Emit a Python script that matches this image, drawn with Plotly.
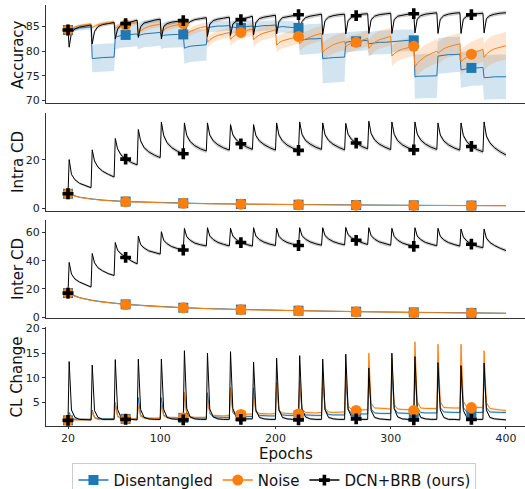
import plotly.graph_objects as go
from plotly.subplots import make_subplots

# ---------------- data ----------------
OFFSETS = [1, 3, 6, 10, 15, 20]          # epochs after each task boundary
TASK_STARTS = [20 + 20 * k for k in range(19)]
epochs = [20] + [b + o for b in TASK_STARTS for o in OFFSETS]
marker_epochs = [20, 70, 120, 170, 220, 270, 320, 370]
smooth_epochs = [20, 25, 30, 40, 50, 70, 95, 120, 145, 170, 220, 270, 320, 370, 400]

# ---- Accuracy (per task rows: values at OFFSETS) ----
acc_start = 84.3
acc_dcn = [
    [80.8, 83.8, 84.5, 84.9, 85.1, 85.3], [81.5, 84.0, 85.0, 85.4, 85.6, 85.8],
    [82.5, 84.5, 85.3, 85.6, 86.0, 86.3], [82.8, 85.0, 85.7, 86.0, 86.3, 86.5],
    [82.5, 85.0, 85.6, 85.9, 86.1, 86.2], [83.0, 85.3, 86.0, 86.4, 86.6, 86.8],
    [83.0, 85.5, 86.2, 86.5, 86.7, 86.9], [83.2, 85.5, 86.1, 86.4, 86.8, 87.1],
    [83.3, 85.8, 86.6, 86.9, 87.1, 87.3], [83.5, 86.0, 86.8, 87.0, 87.2, 87.4],
    [83.3, 86.0, 86.8, 87.1, 87.3, 87.5], [83.4, 86.2, 86.9, 87.2, 87.4, 87.5],
    [83.5, 86.2, 86.9, 87.2, 87.5, 87.6], [83.6, 86.4, 87.1, 87.4, 87.6, 87.7],
    [83.6, 86.4, 87.1, 87.3, 87.5, 87.6], [83.7, 86.5, 87.2, 87.5, 87.7, 87.8],
    [83.6, 86.5, 87.2, 87.5, 87.7, 87.8], [83.6, 86.5, 87.1, 87.4, 87.6, 87.7],
    [83.7, 86.6, 87.2, 87.5, 87.7, 87.8],
]
acc_dcn_std = [0.4, 0.4, 0.4, 0.4, 0.4, 0.4, 0.4, 0.4, 0.4, 0.4,
               0.4, 0.4, 0.4, 0.4, 0.4, 0.4, 0.4, 0.4, 0.4]
acc_dis = [
    [84.2, 84.4, 84.6, 84.7, 84.8, 84.9], [78.5, 78.6, 78.6, 78.7, 78.7, 78.8],
    [82.8, 83.0, 83.2, 83.3, 83.4, 83.5], [83.0, 83.3, 83.5, 83.6, 83.7, 83.8],
    [83.0, 83.2, 83.3, 83.4, 83.4, 83.4], [80.6, 80.8, 81.0, 81.1, 81.2, 81.3],
    [84.8, 84.9, 85.0, 85.1, 85.1, 85.2], [84.8, 84.9, 84.8, 84.7, 85.0, 85.1],
    [84.9, 85.0, 85.1, 85.2, 85.2, 85.3], [84.8, 84.9, 85.0, 84.9, 84.8, 84.7],
    [82.2, 82.3, 82.4, 82.5, 82.5, 82.6], [78.5, 78.6, 78.6, 78.7, 78.7, 78.8],
    [81.8, 81.9, 82.0, 82.0, 82.1, 82.2], [81.5, 81.6, 81.7, 81.8, 81.8, 81.9],
    [82.0, 82.1, 82.1, 82.2, 82.2, 82.2], [74.8, 74.9, 74.9, 75.0, 75.0, 75.0],
    [79.0, 79.1, 79.2, 79.3, 79.3, 79.4], [76.2, 76.3, 76.4, 76.6, 76.6, 76.7],
    [74.6, 74.7, 74.7, 74.8, 74.8, 74.8],
]
acc_dis_std = [0.5, 2.8, 2.5, 2.7, 2.6, 3.2, 1.0, 1.2, 1.0, 1.2,
               3.0, 5.0, 2.0, 2.4, 2.2, 4.5, 3.6, 3.6, 4.5]
acc_noise = [
    [84.0, 84.5, 84.9, 85.2, 85.4, 85.5], [84.8, 85.1, 85.4, 85.6, 85.8, 85.9],
    [84.6, 85.0, 85.2, 85.3, 85.6, 85.8], [83.8, 84.2, 84.6, 85.0, 85.3, 85.5],
    [84.0, 84.4, 84.8, 85.1, 85.4, 85.6], [83.2, 83.6, 84.0, 84.4, 84.8, 85.0],
    [81.8, 82.3, 82.8, 83.2, 83.5, 83.8], [82.4, 82.9, 83.4, 83.8, 84.2, 84.5],
    [82.3, 82.8, 83.3, 83.7, 84.0, 84.3], [81.2, 81.7, 82.1, 82.4, 82.7, 83.0],
    [81.5, 82.0, 82.5, 82.9, 83.3, 83.6], [79.8, 80.3, 80.8, 81.3, 81.7, 82.0],
    [80.9, 81.3, 81.6, 81.8, 82.2, 82.6], [80.6, 81.2, 81.8, 82.3, 82.7, 83.0],
    [79.0, 79.5, 80.0, 80.4, 80.7, 81.0], [76.8, 77.5, 78.2, 78.9, 79.5, 80.0],
    [79.6, 80.0, 80.5, 80.9, 81.2, 81.5], [77.8, 78.3, 78.8, 79.4, 79.9, 80.4],
    [78.7, 79.4, 80.0, 80.5, 80.8, 81.1],
]
acc_noise_std = [0.3, 0.4, 0.5, 0.6, 0.6, 0.8, 1.0, 1.3, 1.4, 1.5,
                 1.5, 1.8, 1.6, 1.8, 2.0, 2.4, 2.2, 2.5, 2.8]

# ---- Intra CD ----
intra_start = 6.0
intra_dcn = [
    [20.1, 14.0, 11.8, 10.3, 9.3, 8.5], [24.1, 19.5, 17.0, 15.3, 14.0, 12.9],
    [28.8, 24.5, 22.0, 20.3, 18.9, 17.9], [32.5, 27.8, 25.0, 23.3, 21.9, 20.9],
    [35.6, 30.0, 27.0, 25.0, 23.5, 22.5], [35.2, 30.0, 27.5, 25.8, 24.5, 23.6],
    [35.2, 30.2, 27.8, 26.2, 24.9, 24.0], [34.5, 30.3, 28.2, 26.6, 25.3, 24.3],
    [34.5, 30.0, 27.8, 26.3, 25.0, 24.0], [35.2, 30.2, 27.8, 26.1, 24.8, 23.9],
    [35.6, 30.5, 28.0, 26.5, 25.2, 24.3], [35.2, 30.3, 28.0, 26.4, 25.1, 24.1],
    [35.0, 30.5, 28.4, 26.9, 25.5, 24.5], [35.9, 30.8, 28.2, 26.5, 25.2, 24.2],
    [35.6, 30.5, 27.9, 26.2, 24.9, 24.1], [35.6, 30.6, 28.2, 26.5, 25.2, 24.3],
    [35.2, 30.2, 27.8, 26.2, 24.9, 24.0], [35.2, 30.0, 27.5, 25.5, 24.2, 23.3],
    [35.6, 29.8, 27.0, 25.0, 23.3, 22.0],
]
intra_dcn_std = [0.5, 0.6, 0.7, 0.8, 0.9, 0.9, 0.9, 0.9, 0.9, 0.9,
                 0.9, 0.9, 0.9, 0.9, 0.9, 0.9, 0.9, 0.9, 0.9]
intra_dis = [6.0, 5.2, 4.6, 3.9, 3.4, 2.8, 2.4, 2.1, 1.9, 1.75, 1.5, 1.35, 1.25, 1.15, 1.1]
intra_noise = [6.0, 5.1, 4.5, 3.8, 3.3, 2.7, 2.3, 2.05, 1.85, 1.7, 1.45, 1.3, 1.2, 1.1, 1.05]
intra_smooth_std = [0.2, 0.2, 0.2, 0.2, 0.2, 0.2, 0.15, 0.15, 0.15, 0.15, 0.1, 0.1, 0.1, 0.1, 0.1]

# ---- Inter CD ----
inter_start = 17.0
inter_dcn = [
    [38.8, 30.5, 27.0, 24.8, 22.8, 21.3], [45.1, 38.5, 35.0, 32.8, 30.8, 29.5],
    [52.9, 47.5, 44.8, 42.3, 39.8, 37.7], [57.5, 51.5, 49.0, 47.0, 45.8, 44.7],
    [60.6, 54.5, 52.0, 50.0, 48.6, 47.6], [62.9, 57.0, 54.5, 52.5, 51.3, 50.5],
    [63.4, 57.5, 55.0, 53.0, 51.6, 50.5], [63.0, 57.5, 55.0, 52.9, 51.5, 50.4],
    [63.4, 57.5, 55.0, 53.2, 51.8, 50.8], [63.0, 57.3, 54.8, 53.0, 51.7, 50.8],
    [63.4, 57.8, 55.3, 53.4, 52.0, 51.0], [63.4, 57.8, 55.5, 53.6, 52.2, 51.2],
    [63.6, 58.5, 56.2, 54.5, 52.8, 51.5], [63.4, 57.8, 55.3, 53.4, 52.0, 51.0],
    [63.0, 57.2, 54.6, 52.6, 51.2, 50.1], [63.4, 57.5, 55.0, 53.0, 51.7, 50.6],
    [63.0, 57.3, 54.8, 52.9, 51.5, 50.4], [62.5, 56.8, 54.0, 51.7, 50.2, 49.2],
    [62.5, 56.0, 53.0, 50.8, 48.8, 47.2],
]
inter_dcn_std = [0.8, 0.9, 1.0, 1.1, 1.2, 1.3, 1.3, 1.3, 1.3, 1.3,
                 1.3, 1.3, 1.3, 1.3, 1.3, 1.3, 1.3, 1.3, 1.3]
inter_dis = [17.0, 15.2, 13.8, 12.0, 10.8, 9.0, 7.6, 6.6, 5.9, 5.3, 4.5, 3.8, 3.3, 2.9, 2.7]
inter_noise = [17.0, 15.0, 13.6, 11.8, 10.6, 8.9, 7.5, 6.5, 5.8, 5.2, 4.4, 3.7, 3.2, 2.8, 2.6]
inter_smooth_std = [0.6, 0.6, 0.5, 0.5, 0.5, 0.4, 0.4, 0.4, 0.3, 0.3, 0.3, 0.3, 0.3, 0.3, 0.3]

# ---- CL Change ----
cl_start = 1.4
cl_dcn = [
    [13.3, 3.5, 2.0, 1.6, 1.6, 1.5], [12.6, 3.4, 2.0, 1.6, 1.6, 1.6],
    [13.7, 3.6, 2.0, 1.6, 1.6, 1.5], [13.8, 3.6, 2.0, 1.7, 1.6, 1.6],
    [13.8, 3.6, 2.0, 1.7, 1.6, 1.5], [15.5, 3.8, 2.1, 1.7, 1.6, 1.6],
    [15.0, 3.7, 2.1, 1.7, 1.6, 1.6], [15.3, 3.8, 2.1, 1.6, 1.7, 1.7],
    [13.2, 3.5, 2.0, 1.7, 1.6, 1.6], [14.0, 3.6, 2.0, 1.7, 1.6, 1.5],
    [14.5, 3.7, 2.1, 1.7, 1.6, 1.6], [13.8, 3.6, 2.0, 1.7, 1.6, 1.6],
    [14.8, 3.7, 2.1, 1.7, 1.6, 1.6], [12.0, 3.4, 2.0, 1.7, 1.6, 1.5],
    [15.0, 3.8, 2.1, 1.7, 1.6, 1.5], [14.3, 3.7, 2.0, 1.7, 1.6, 1.6],
    [13.1, 3.5, 2.0, 1.6, 1.6, 1.5], [12.5, 3.4, 2.0, 1.6, 1.6, 1.6],
    [13.0, 3.5, 2.0, 1.7, 1.6, 1.5],
]
cl_dis = [
    [3.0, 1.9, 1.6, 1.6, 1.6, 1.6], [3.5, 2.0, 1.7, 1.7, 1.7, 1.7],
    [5.0, 2.3, 1.8, 1.7, 1.7, 1.7], [6.0, 2.5, 1.9, 1.8, 1.8, 1.8],
    [6.0, 2.5, 2.0, 1.9, 1.9, 1.9], [7.0, 2.7, 2.0, 1.9, 1.9, 1.9],
    [7.0, 2.8, 2.1, 2.0, 2.0, 2.0], [8.0, 3.0, 2.3, 2.2, 2.2, 2.2],
    [8.0, 3.1, 2.4, 2.3, 2.3, 2.3], [9.0, 3.3, 2.5, 2.4, 2.4, 2.4],
    [9.0, 3.3, 2.5, 2.4, 2.4, 2.4], [10.0, 3.5, 2.6, 2.5, 2.5, 2.5],
    [10.0, 3.6, 2.8, 2.7, 2.7, 2.7], [10.0, 3.7, 2.9, 2.8, 2.8, 2.8],
    [11.0, 3.8, 2.9, 2.8, 2.8, 2.8], [11.0, 3.9, 3.0, 2.9, 2.9, 2.9],
    [11.0, 4.0, 3.1, 3.0, 3.0, 3.0], [11.0, 4.0, 3.1, 3.0, 3.0, 3.0],
    [11.0, 4.0, 3.1, 3.0, 3.0, 3.0],
]
cl_noise = [
    [2.5, 1.7, 1.5, 1.5, 1.5, 1.5], [3.2, 1.9, 1.6, 1.6, 1.6, 1.6],
    [4.8, 2.2, 1.8, 1.7, 1.7, 1.7], [4.2, 2.2, 1.9, 1.8, 1.8, 1.8],
    [4.5, 2.3, 2.0, 1.9, 1.9, 1.9], [7.0, 2.8, 2.1, 2.0, 2.0, 2.0],
    [5.5, 2.9, 2.4, 2.3, 2.3, 2.4], [7.8, 3.2, 2.7, 2.6, 2.6, 2.7],
    [6.5, 3.2, 2.8, 2.7, 2.7, 2.8], [9.0, 3.5, 2.9, 2.8, 2.8, 2.7],
    [9.5, 3.7, 3.0, 2.9, 2.9, 3.0], [11.0, 3.9, 3.1, 3.0, 3.0, 3.1],
    [12.0, 4.3, 3.6, 3.4, 3.5, 3.6], [15.0, 4.8, 3.9, 3.8, 3.8, 3.7],
    [14.0, 4.6, 3.7, 3.6, 3.6, 3.4], [17.3, 5.2, 3.9, 3.8, 3.8, 3.8],
    [16.8, 5.2, 4.0, 3.9, 3.9, 3.9], [16.8, 5.3, 4.1, 4.0, 4.0, 4.0],
    [15.5, 5.0, 3.8, 3.6, 3.5, 3.4],
]
cl_std = [0.25, 0.25, 0.25, 0.25, 0.25, 0.25, 0.25, 0.25, 0.25, 0.25,
          0.25, 0.25, 0.25, 0.25, 0.25, 0.25, 0.25, 0.25, 0.25]

# ---------------- helpers ----------------
def flat(start, rows):
    return [start] + [v for r in rows for v in r]

def flat_std(stds):
    return [stds[0]] + [s for s in stds for _ in OFFSETS]

BLUE, ORANGE, BLACK = "#1f77b4", "#ff7f0e", "#000000"
FILLS = {BLUE: "rgba(31,119,180,0.2)", ORANGE: "rgba(255,127,14,0.2)",
         BLACK: "rgba(0,0,0,0.2)"}
SYMBOLS = {BLUE: "square", ORANGE: "circle", BLACK: "cross"}
SIZES = {BLUE: 10, ORANGE: 11, BLACK: 9}
FONT = "DejaVu Sans"

fig = make_subplots(rows=4, cols=1, shared_xaxes=True)

def add_series(row, xs, ys, sds, color):
    upper = [y + s for y, s in zip(ys, sds)]
    lower = [y - s for y, s in zip(ys, sds)]
    fig.add_trace(go.Scatter(x=list(xs) + list(xs)[::-1], y=upper + lower[::-1],
                             fill="toself", fillcolor=FILLS[color], line=dict(width=0),
                             mode="lines", hoverinfo="skip", showlegend=False),
                  row=row, col=1)

def add_line(row, xs, ys, color):
    fig.add_trace(go.Scatter(x=xs, y=ys, mode="lines",
                             line=dict(color=color, width=1), showlegend=False),
                  row=row, col=1)

def add_markers(row, xs, ys, color):
    mx = [x for x in xs if x in marker_epochs]
    my = [y for x, y in zip(xs, ys) if x in marker_epochs]
    fig.add_trace(go.Scatter(x=mx, y=my, mode="markers",
                             marker=dict(color=color, symbol=SYMBOLS[color],
                                         size=SIZES[color], line=dict(width=0)),
                             showlegend=False), row=row, col=1)

panels = [
    (1, [(epochs, flat(acc_start, acc_dis), flat_std(acc_dis_std), BLUE),
         (epochs, flat(acc_start, acc_noise), flat_std(acc_noise_std), ORANGE),
         (epochs, flat(acc_start, acc_dcn), flat_std(acc_dcn_std), BLACK)]),
    (2, [(smooth_epochs, intra_dis, intra_smooth_std, BLUE),
         (smooth_epochs, intra_noise, intra_smooth_std, ORANGE),
         (epochs, flat(intra_start, intra_dcn), flat_std(intra_dcn_std), BLACK)]),
    (3, [(smooth_epochs, inter_dis, inter_smooth_std, BLUE),
         (smooth_epochs, inter_noise, inter_smooth_std, ORANGE),
         (epochs, flat(inter_start, inter_dcn), flat_std(inter_dcn_std), BLACK)]),
    (4, [(epochs, flat(cl_start, cl_dis), flat_std(cl_std), BLUE),
         (epochs, flat(cl_start, cl_noise), flat_std(cl_std), ORANGE),
         (epochs, flat(cl_start, cl_dcn), flat_std(cl_std), BLACK)]),
]

for row, series in panels:
    for xs, ys, sds, c in series:
        add_series(row, xs, ys, sds, c)
    for xs, ys, sds, c in series:
        add_line(row, xs, ys, c)
    for xs, ys, sds, c in series:
        add_markers(row, xs, ys, c)

# legend entries
for name, c in [("Disentangled", BLUE), ("Noise", ORANGE), ("DCN+BRB (ours)", BLACK)]:
    fig.add_trace(go.Scatter(x=[None], y=[None], mode="lines+markers", name=name,
                             line=dict(color=c, width=1.5),
                             marker=dict(color=c, symbol=SYMBOLS[c], size=SIZES[c])),
                  row=4, col=1)

# ---------------- layout ----------------
domains = [[0.7672, 1.0], [0.5107, 0.7435], [0.2565, 0.4893], [0.0, 0.2352]]
yranges = [[69.48, 89.37], [-1.1, 39.3], [-0.7, 68.9], [0.26, 20.3]]
yticks = [[70, 75, 80, 85], [0, 20], [0, 20, 40, 60], [5, 10, 15, 20]]
ytitles = ["Accuracy", "Intra CD", "Inter CD", "CL Change"]
AX = "#333333"

for i in range(4):
    yk = "yaxis" if i == 0 else f"yaxis{i+1}"
    xk = "xaxis" if i == 0 else f"xaxis{i+1}"
    fig.layout[yk].update(domain=domains[i], range=yranges[i], tickvals=yticks[i],
                          automargin=False,
                          showgrid=False, zeroline=False, showline=True, linecolor=AX,
                          linewidth=1, ticks="outside", ticklen=3, tickcolor=AX,
                          tickfont=dict(family=FONT, size=11, color="#222"))
    fig.layout[xk].update(range=[0.9, 416.5], showgrid=False, zeroline=False,
                          automargin=False,
                          showline=True, linecolor=AX, linewidth=1.2)
    if i < 3:
        fig.layout[xk].update(showticklabels=False, ticks="")
    else:
        fig.layout[xk].update(tickvals=[20, 100, 200, 300, 400], ticks="outside",
                              ticklen=2, tickcolor=AX,
                              tickfont=dict(family=FONT, size=11, color="#222"))
    fig.add_annotation(text=ytitles[i], xref="paper", yref="paper",
                       x=-0.0585, y=(domains[i][0] + domains[i][1]) / 2,
                       textangle=-90, showarrow=False, xanchor="center", yanchor="middle",
                       font=dict(family=FONT, size=15, color="#111"))

fig.add_annotation(text="Epochs", xref="paper", yref="paper", x=0.5, y=-0.066,
                   showarrow=False, xanchor="center", yanchor="middle",
                   font=dict(family=FONT, size=15, color="#111"))

fig.update_layout(
    width=525, height=489,
    margin=dict(l=46, r=0, t=5, b=63, autoexpand=False),
    paper_bgcolor="white", plot_bgcolor="white",
    font=dict(family=FONT, size=12, color="#111"),
    showlegend=True,
    legend=dict(orientation="h", x=0.477, xanchor="center", y=-0.0875, yanchor="top",
                font=dict(family=FONT, size=15, color="#111"),
                bordercolor="#cccccc", borderwidth=1, bgcolor="white",
                itemwidth=30, tracegroupgap=0),
)

fig.write_html("out.html", config={"displayModeBar": False},
               post_script="document.body.style.margin='0';document.body.style.overflow='hidden';")
